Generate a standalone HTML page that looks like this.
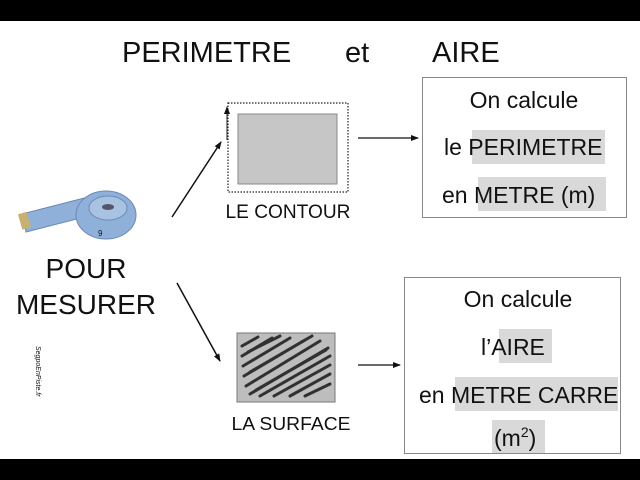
<!DOCTYPE html>
<html><head><meta charset="utf-8"><style>
html,body{margin:0;padding:0;background:#fff}
svg{display:block}
text{font-family:"Liberation Sans",sans-serif;fill:#111}
</style></head><body>
<svg width="640" height="480" viewBox="0 0 640 480" xmlns="http://www.w3.org/2000/svg">
<defs>
<marker id="ah" markerWidth="8" markerHeight="8" refX="7" refY="4" orient="auto" markerUnits="userSpaceOnUse">
<path d="M0,1 L8,4 L0,7 Z" fill="#111"/></marker>
</defs>
<rect x="0" y="0" width="640" height="21" fill="#000"/>
<rect x="0" y="459" width="640" height="21" fill="#000"/>

<text x="122" y="62" font-size="29">PERIMETRE</text>
<text x="345" y="62" font-size="29">et</text>
<text x="432" y="62" font-size="29">AIRE</text>

<!-- tape -->
<g>
<path d="M22,214 L92,196 L96,214 L26,232 Z" fill="#8fb0d8" stroke="#6a8ab5" stroke-width="1"/>
<rect x="20" y="213" width="9" height="16" fill="#c8b070" transform="rotate(-16 24 221)"/>
<ellipse cx="106" cy="215" rx="30" ry="24" fill="#8fb0d8" stroke="#6a8ab5"/>
<ellipse cx="108" cy="208" rx="19" ry="12" fill="#a8c2e2" stroke="#6a8ab5"/>
<ellipse cx="108" cy="207" rx="6" ry="3" fill="#556"/>
<text x="98" y="236" font-size="8">9</text>
</g>

<text x="86" y="278" font-size="28" text-anchor="middle">POUR</text>
<text x="86" y="314" font-size="28" text-anchor="middle">MESURER</text>
<text x="0" y="0" font-size="7" font-style="italic" fill="#444" transform="translate(36,346) rotate(90)">SegpoEnPiste.fr</text>

<line x1="172" y1="217" x2="221" y2="142" stroke="#111" stroke-width="1.5" marker-end="url(#ah)"/>
<line x1="177" y1="283" x2="220" y2="361" stroke="#111" stroke-width="1.5" marker-end="url(#ah)"/>

<!-- contour -->
<rect x="228" y="103" width="120" height="89" fill="none" stroke="#222" stroke-width="1.2" stroke-dasharray="1.5,1.5"/>
<line x1="227" y1="140" x2="227" y2="107" stroke="#222" stroke-width="1" marker-end="url(#ah)"/>
<rect x="238" y="114" width="99" height="70" fill="#c6c6c6" stroke="#888" stroke-width="1"/>
<text x="288" y="218" font-size="19" text-anchor="middle" textLength="125" lengthAdjust="spacingAndGlyphs">LE CONTOUR</text>

<!-- surface -->
<rect x="237" y="333" width="98" height="69" fill="#bdbdbd" stroke="#777"/>
<g stroke="#222" stroke-width="3" stroke-linecap="round" fill="none" opacity="0.9">
<path d="M242,346 L258,337"/><path d="M242,356 L272,338"/><path d="M243,366 L290,338"/>
<path d="M244,376 L305,340"/><path d="M246,386 L320,341"/><path d="M250,394 L328,348"/>
<path d="M260,396 L330,356"/><path d="M274,396 L330,365"/><path d="M290,396 L330,374"/>
<path d="M305,396 L330,384"/><path d="M248,352 L280,336"/><path d="M250,372 L312,336"/>
<path d="M256,390 L326,350"/>
</g>
<text x="291" y="430" font-size="18" text-anchor="middle" textLength="119" lengthAdjust="spacingAndGlyphs">LA SURFACE</text>

<line x1="358" y1="138" x2="418" y2="138" stroke="#111" stroke-width="1.3" marker-end="url(#ah)"/>
<line x1="358" y1="365" x2="400" y2="365" stroke="#111" stroke-width="1.3" marker-end="url(#ah)"/>

<!-- top box -->
<rect x="422.5" y="77.5" width="204" height="140" fill="#fff" stroke="#888"/>
<rect x="472" y="130" width="133" height="34" fill="#d9d9d9"/>
<rect x="478" y="177" width="128" height="34" fill="#d9d9d9"/>
<text x="524" y="108" font-size="23" text-anchor="middle">On calcule</text>
<text x="444" y="155" font-size="23">le PERIMETRE</text>
<text x="442" y="203" font-size="23">en METRE (m)</text>

<!-- bottom box -->
<rect x="404.5" y="277.5" width="216" height="176" fill="#fff" stroke="#888"/>
<rect x="499" y="329" width="53" height="34" fill="#d9d9d9"/>
<rect x="455" y="377" width="163" height="34" fill="#d9d9d9"/>
<rect x="492" y="420" width="53" height="33" fill="#d9d9d9"/>
<text x="518" y="307" font-size="23" text-anchor="middle">On calcule</text>
<text x="481" y="355" font-size="23">l’AIRE</text>
<text x="419" y="403" font-size="23">en METRE CARRE</text>
<text x="494" y="446" font-size="23">(m<tspan font-size="14" dy="-9">2</tspan><tspan dy="9">)</tspan></text>
</svg>
</body></html>
